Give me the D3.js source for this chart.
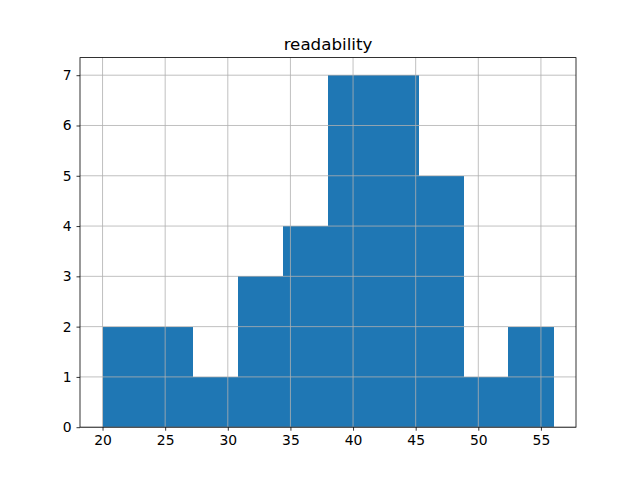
<!DOCTYPE html>
<html>
<head>
<meta charset="utf-8">
<script src="https://cdn.jsdelivr.net/npm/d3@7"></script>
<style>
  body { margin: 0; background: #fff; }
  text { font-family: "DejaVu Sans", sans-serif; }
</style>
</head>
<body>
<div id="chart"></div>
<script>
// histogram of readability, 10 bins from 20 to 56
const binEdges = [20, 23.6, 27.2, 30.8, 34.4, 38, 41.6, 45.2, 48.8, 52.4, 56];
const counts = [2, 2, 1, 3, 4, 7, 7, 5, 1, 2];
const xTicks = [20, 25, 30, 35, 40, 45, 50, 55];
const yTicks = [0, 1, 2, 3, 4, 5, 6, 7];
const title = "readability";

function drawChart() {
    const W = 640, H = 480;
    const left = 80, right = 576, top = 57.6, bottom = 427.2;

    let svg = d3.select("#chart")
        .append("svg")
        .attr("width", W)
        .attr("height", H);

    const lo = binEdges[0], hi = binEdges[binEdges.length - 1];
    const pad = (hi - lo) * 0.05;
    let x = d3.scaleLinear().domain([lo - pad, hi + pad]).range([left, right]);
    let y = d3.scaleLinear().domain([0, d3.max(counts) * 1.05]).range([bottom, top]);

    // bars
    svg.append("g")
        .attr("shape-rendering", "crispEdges")
        .selectAll("rect")
        .data(counts)
        .join("rect")
        .attr("x", (d, i) => x(binEdges[i]))
        .attr("width", (d, i) => x(binEdges[i + 1]) - x(binEdges[i]) + 0.5)
        .attr("y", d => y(d))
        .attr("height", d => bottom - y(d))
        .attr("fill", "#1f77b4");

    // grid on top of bars
    let grid = svg.append("g")
        .attr("stroke", "#b0b0b0")
        .attr("stroke-width", 0.8);
    grid.selectAll(".gx")
        .data(xTicks)
        .join("line")
        .attr("x1", d => x(d)).attr("x2", d => x(d))
        .attr("y1", top).attr("y2", bottom);
    grid.selectAll(".gy")
        .data(yTicks)
        .join("line")
        .attr("x1", left).attr("x2", right)
        .attr("y1", d => y(d)).attr("y2", d => y(d));

    // axes
    let xAxis = svg.append("g")
        .attr("transform", "translate(0," + bottom + ")")
        .call(d3.axisBottom(x).tickValues(xTicks).tickSize(3.5).tickPadding(4.9).tickFormat(d3.format("d")));
    let yAxis = svg.append("g")
        .attr("transform", "translate(" + left + ",0)")
        .call(d3.axisLeft(y).tickValues(yTicks).tickSize(3.5).tickPadding(4.9).tickFormat(d3.format("d")));

    [xAxis, yAxis].forEach(function (a) {
        a.select(".domain").remove();
        a.selectAll(".tick line").attr("stroke", "#000").attr("stroke-width", 0.8);
        a.selectAll(".tick text")
            .attr("fill", "#000")
            .style("font-size", "13.9px")
            .style("font-family", "DejaVu Sans, sans-serif");
    });

    // frame
    svg.append("rect")
        .attr("x", left).attr("y", top)
        .attr("width", right - left).attr("height", bottom - top)
        .attr("fill", "none")
        .attr("stroke", "#000")
        .attr("stroke-width", 0.8);

    svg.append("text")
        .attr("x", (left + right) / 2)
        .attr("y", top - 8)
        .attr("text-anchor", "middle")
        .style("font-size", "16.7px")
        .text(title);
}
drawChart();
</script>
</body>
</html>
